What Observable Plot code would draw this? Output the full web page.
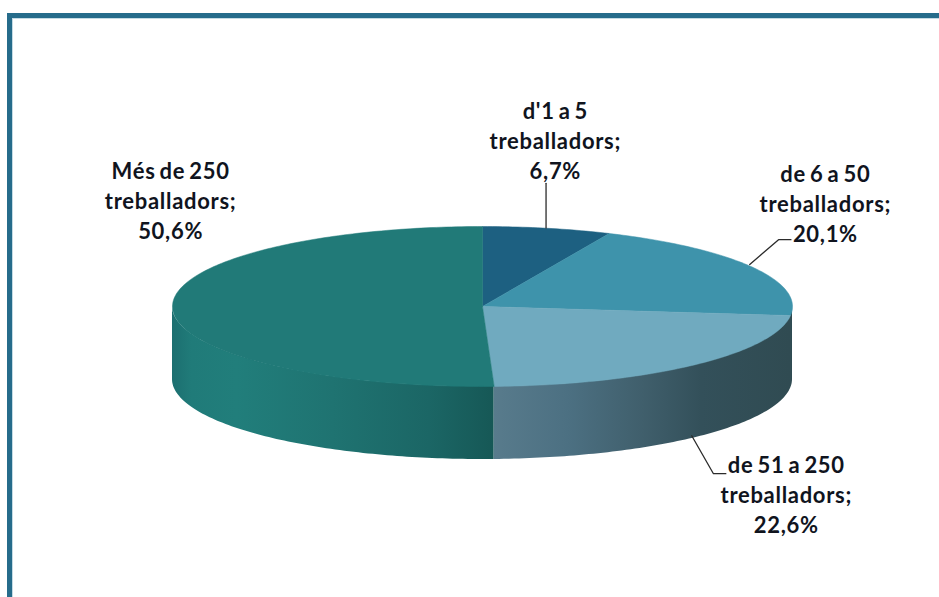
<!DOCTYPE html>
<html>
<head>
<meta charset="utf-8">
<script src="https://cdn.jsdelivr.net/npm/d3@7"></script>
<script src="https://cdn.jsdelivr.net/npm/@observablehq/plot@0.6"></script>
<style>
  html, body { margin: 0; padding: 0; background: #fff; }
  #chart { position: relative; width: 939px; height: 597px; overflow: hidden; }
  #chart svg { display: block; background: transparent; }
  #frame { position: absolute; left: 7px; top: 13px; width: 940px; height: 600px;
           border-left: 5px solid #266c8b; border-top: 5px solid #266c8b;
           box-shadow: inset 1px 1px 0 #c4dbe4; }
</style>
</head>
<body>
<div id="chart"><div id="frame"></div></div>
<script>
// Data
const categories = ["d'1 a 5 treballadors", "de 6 a 50 treballadors", "de 51 a 250 treballadors", "Més de 250 treballadors"];
const values = [6.7, 20.1, 22.6, 50.6];
const valueLabels = ["6,7%", "20,1%", "22,6%", "50,6%"];
const labelLines = ["d'1 a 5\ntreballadors;", "de 6 a 50\ntreballadors;", "de 51 a 250\ntreballadors;", "Més de 250\ntreballadors;"];

// Styling and layout (pie units: rim = 1, origin = pie centre)
const topColors = ["#1d6081", "#3e93ab", "#70aabf", "#217a78"];
const depth = 0.9125;
const labelAnchors = [[0.235, 2.085], [1.106, 1.3], [0.98, -2.34], [-1.006, 1.335]];
const leaders = [
  {slice: 0, pts: [[0.205, 0.98], [0.205, 1.54]]},
  {slice: 1, pts: [[0.862, 0.525], [0.955, 0.835], [0.995, 0.835]]},
  {slice: 2, pts: [[0.675, -0.733 - depth + 0.03], [0.745, -2.09], [0.785, -2.09]]}
];

const arcs = d3.pie().sort(null).value(d => d)(values);
const rim = a => ({x: Math.sin(a), y: Math.cos(a)});
const steps = (a0, a1) => {
  const n = Math.max(2, Math.ceil((a1 - a0) * 60));
  return d3.range(n + 1).map(i => a0 + (a1 - a0) * i / n);
};

// Top faces
const topFaces = arcs.flatMap((arc, i) => {
  const pts = [{x: 0, y: 0}, ...steps(arc.startAngle, arc.endAngle).map(rim), {x: 0, y: 0}];
  return pts.map(p => ({...p, category: categories[i]}));
});

// Side walls: only the front half of the rim is visible
const wall = (i) => {
  const a0 = Math.max(arcs[i].startAngle, Math.PI / 2);
  const a1 = Math.min(arcs[i].endAngle, Math.PI * 1.5);
  return a1 > a0 ? steps(a0, a1).map(a => ({x: Math.sin(a), y1: Math.cos(a) - depth, y2: Math.cos(a)})) : [];
};

const gradient = (id, stops) => () => {
  const defs = d3.create("svg:defs");
  const g = defs.append("linearGradient").attr("id", id)
    .attr("x1", 0).attr("x2", 1).attr("y1", 0).attr("y2", 0);
  for (const [o, c] of stops) g.append("stop").attr("offset", o).attr("stop-color", c);
  return defs.node();
};

const labels = categories.map((c, i) => ({
  x: labelAnchors[i][0], y: labelAnchors[i][1],
  text: labelLines[i] + "\n" + valueLabels[i]
}));

const plot = Plot.plot({
  width: 939,
  height: 597,
  margin: 0,
  x: {domain: [-482 / 310, 457 / 310], axis: null},
  y: {domain: [-291 / 80, 306 / 80], axis: null},
  color: {domain: categories, range: topColors},
  style: {fontFamily: "Lato, 'Open Sans', sans-serif", background: "transparent", letterSpacing: "0.7px", wordSpacing: "-2px"},
  marks: [
    gradient("wall4", [[0, "#1c6f70"], [0.06, "#207b79"], [0.2, "#217e7b"], [0.5, "#1f7371"], [0.8, "#1b6665"], [1, "#165856"]]),
    gradient("wall3", [[0, "#587b8c"], [0.25, "#4c7082"], [0.5, "#405f6c"], [0.7, "#33505a"], [1, "#304b52"]]),
    Plot.areaY(wall(3), {x: "x", y1: "y1", y2: "y2", fill: "url(#wall4)"}),
    Plot.areaY(wall(2), {x: "x", y1: "y1", y2: "y2", fill: "url(#wall3)"}),
    Plot.areaY(wall(1), {x: "x", y1: "y1", y2: "y2", fill: "#2f4b52"}),
    Plot.line(topFaces, {x: "x", y: "y", fill: "category", stroke: "category", strokeWidth: 0.5}),
    ...leaders.map(l => Plot.line(l.pts, {x: d => d[0], y: d => d[1], stroke: "#2b2b2b", strokeWidth: 1.3})),
    Plot.text(labels, {
      x: "x", y: "y", text: "text",
      fontSize: 22, fontWeight: 700, fill: "#10141e",
      lineHeight: 1.364, lineAnchor: "middle", textAnchor: "middle"
    })
  ]
});
document.getElementById("chart").appendChild(plot);
</script>
</body>
</html>
